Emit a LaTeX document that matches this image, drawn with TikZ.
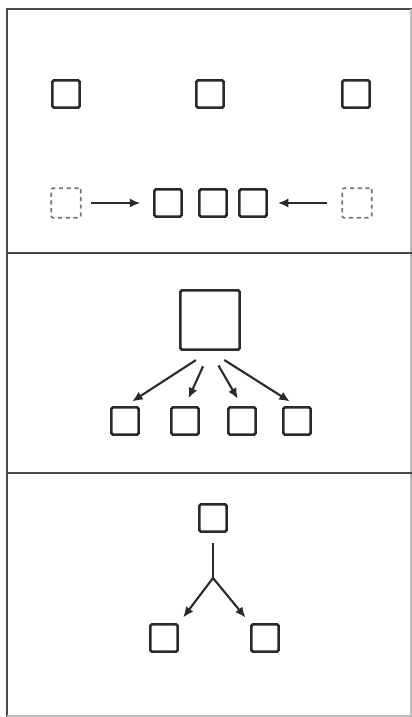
\documentclass[tikz,border=0pt]{standalone}
\usepackage{tikz}
\usetikzlibrary{arrows.meta}
\definecolor{mInk}{HTML}{2A2A2A}
\definecolor{mGray}{HTML}{BBBBBB}

\begin{document}
\begin{tikzpicture}[x=0.025cm, y=-0.025cm,
  sq/.style={draw=mInk, line width=1.9pt, rounded corners=1pt, minimum size=0.68cm, inner sep=0pt},
  ghost/.style={draw=mInk!65, dash pattern=on 3pt off 2.5pt, line width=1.2pt, rounded corners=1.5pt,
                minimum size=0.74cm, inner sep=0pt},
  big/.style={sq, minimum size=1.48cm},
  arr/.style={draw=mInk, line width=1.5pt, -{Latex[length=7.5pt, width=6.5pt]}},
  frame/.style={draw=mInk!85, line width=2pt},
]
  \useasboundingbox (0,0) rectangle (412,717);
  % panels
  \draw[frame] (7,717) -- (7,9) -- (412,9);
  \draw[mGray, line width=0.8pt] (411,9) -- (411,716) -- (7,716);
  \draw[frame] (7,253) -- (412,253);
  \draw[frame] (7,473) -- (412,473);

  % top panel
  \node[sq] (a1) at ( 66, 94) {};
  \node[sq] (a2) at (210, 94) {};
  \node[sq] (a3) at (356, 94) {};
  \node[ghost] (g1) at ( 66,203) {};
  \node[sq] (r1) at (168,203) {};
  \node[sq] (r2) at (213,203) {};
  \node[sq] (r3) at (253,203) {};
  \node[ghost] (g2) at (357,203) {};
  \draw[arr, shorten <=7pt, shorten >=9pt] (g1.east) -- (r1.west);
  \draw[arr, shorten <=10pt, shorten >=7pt] (g2.west) -- (r3.east);

  % middle panel
  \node[big] (hub) at (210,320) {};
  \node[sq] (s1) at (125,421) {};
  \node[sq] (s2) at (185,421) {};
  \node[sq] (s3) at (242,421) {};
  \node[sq] (s4) at (297,421) {};
  \foreach \n in {s1,s2,s3,s4}
    \draw[arr, shorten <=12pt, shorten >=6pt] (hub.south) -- (\n.north);

  % bottom panel
  \node[sq] (t) at (213,518) {};
  \coordinate (fork) at (213,578);
  \node[sq] (b1) at (164,638) {};
  \node[sq] (b2) at (265,638) {};
  \draw[mInk, line width=1.5pt, shorten <=7pt] (t.south) -- (fork);
  \draw[arr, shorten >=5pt] (fork) -- (b1.north east);
  \draw[arr, shorten >=5pt] (fork) -- (b2.north west);
\end{tikzpicture}
\end{document}
